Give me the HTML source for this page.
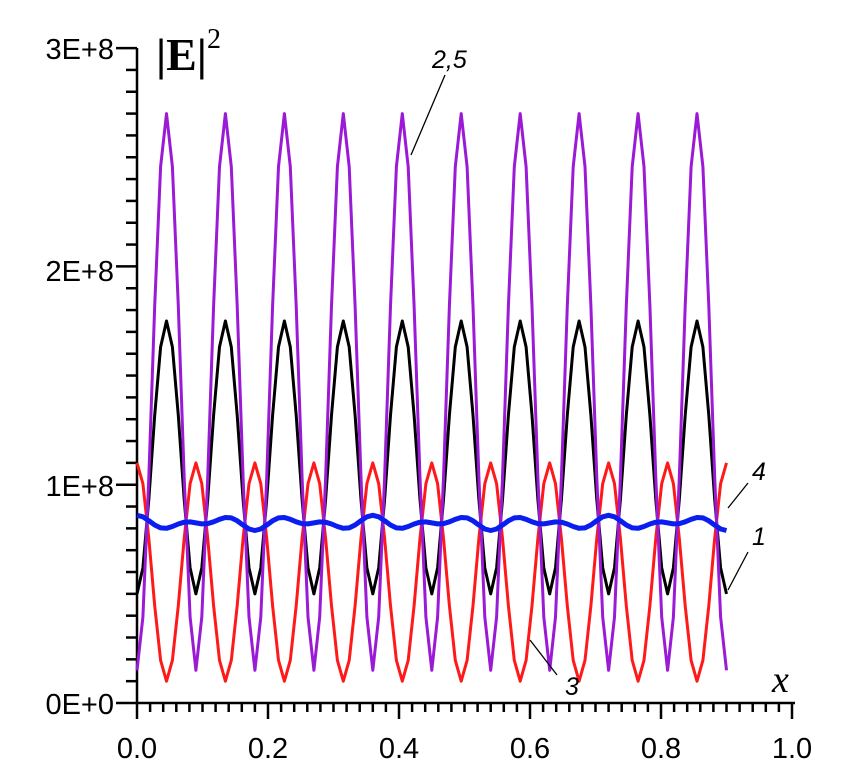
<!DOCTYPE html><html><head><style>body{margin:0;background:#fff}svg{display:block}</style></head><body>
<svg id="s" width="843" height="774" xmlns="http://www.w3.org/2000/svg" font-family="Liberation Sans, sans-serif">
<g id="ax" stroke="#000" stroke-width="2.5" fill="none"></g>
<g id="cv" fill="none" stroke-linejoin="round"></g>
<g font-size="29" fill="#000" text-anchor="end">
<text x="114" y="59">3E+8</text><text x="114" y="281">2E+8</text><text x="114" y="496">1E+8</text><text x="114" y="714">0E+0</text>
</g>
<g font-size="29" fill="#000" text-anchor="middle">
<text x="137" y="758">0.0</text><text x="268" y="758">0.2</text><text x="399" y="758">0.4</text><text x="530" y="758">0.6</text><text x="661" y="758">0.8</text><text x="792" y="758">1.0</text>
</g>
<text x="156" y="70" font-family="Liberation Serif, serif" font-size="46" font-weight="bold">|E|</text>
<text x="207" y="48" font-family="Liberation Serif, serif" font-size="28">2</text>
<text x="772" y="692" font-family="Liberation Serif, serif" font-size="38" font-style="italic">x</text>
<g font-size="25" font-style="italic" fill="#000">
<text x="432" y="68">2,5</text><text x="752" y="480">4</text><text x="752" y="545">1</text><text x="565" y="695">3</text>
</g>
<g stroke="#000" stroke-width="1.3">
<line x1="445" y1="75" x2="411" y2="155"/><line x1="748" y1="483" x2="728" y2="508"/><line x1="748" y1="552" x2="728" y2="590"/><line x1="557" y1="675" x2="530" y2="640"/>
</g>
</svg>
<script>
var X=v=>137+v*655,Y=v=>703-v*2.183;
var ax=document.getElementById('ax'),h='';
h+='<line x1="137" y1="48" x2="137" y2="703"/><line x1="137" y1="703" x2="795" y2="703"/>';
for(var i=0;i<=30;i++){var y=Y(i*10),l=(i%10==0)?21:11;h+='<line x1="'+(137-l)+'" y1="'+y+'" x2="137" y2="'+y+'"/>';}
for(var i=0;i<=50;i++){var x=X(i*0.02),l=(i%10==0)?16:9;h+='<line x1="'+x+'" y1="703" x2="'+x+'" y2="'+(703+l)+'"/>';}
ax.innerHTML=h;
function pl(f,c,w){var p=[];for(var x=0;x<=0.9001;x+=0.009){p.push(X(x).toFixed(1)+','+Y(f(x)).toFixed(1));}return '<polyline points="'+p.join(' ')+'" stroke="'+c+'" stroke-width="'+w+'"/>';}
var P=0.09,c2=x=>Math.pow(Math.cos(Math.PI*(x-0.045)/P),2),r2=x=>Math.pow(Math.cos(Math.PI*x/P),2);
var g='';
g+=pl(x=>10+100*r2(x),'#ff1a1a',3);
g+=pl(x=>50+125*c2(x),'#000',3);
g+=pl(x=>15+255*c2(x),'#9a1ad6',3);
g+=pl(x=>82.5+3.5*Math.cos(2*Math.PI*x/P)*Math.cos(2*Math.PI*x/0.36),'#0a1ef0',5);
document.getElementById('cv').innerHTML=g;
</script>
</body></html>
